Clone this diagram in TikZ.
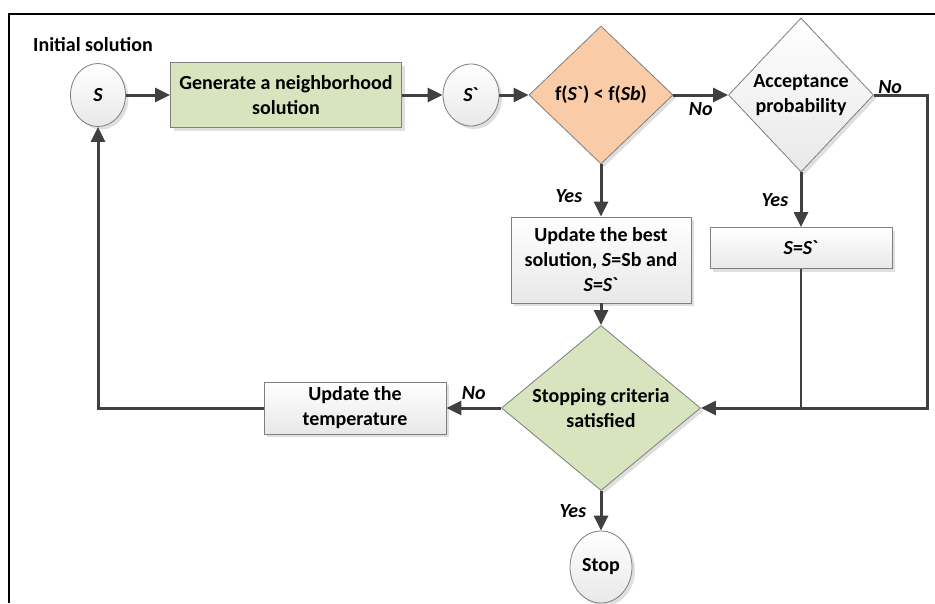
\documentclass[tikz,border=0pt]{standalone}
\usepackage{fontspec}
\setmainfont{Carlito}
\usetikzlibrary{arrows.meta,shapes.geometric,shadows}
\definecolor{olivebox}{HTML}{D7E4BD}
\definecolor{peach}{HTML}{F9CBA7}
\definecolor{lineclr}{HTML}{404040}
\definecolor{edgeclr}{HTML}{7F7F7F}
\newcommand{\Sprime}{\textit{S}\textasciigrave}
\tikzset{
  shapebase/.style={draw=edgeclr, line width=0.8pt, inner sep=0pt, align=center,
    font=\fontsize{20}{25}\selectfont\bfseries,
    drop shadow={shadow xshift=3pt, shadow yshift=-3pt, opacity=0.25, fill=gray}},
  procbox/.style={shapebase, rectangle, top color=white, bottom color=gray!18},
  greenbox/.style={shapebase, rectangle, fill=olivebox},
  statenode/.style={shapebase, ellipse, top color=white, bottom color=gray!18},
  decision/.style={shapebase, diamond},
  dtext/.style={align=center, font=\fontsize{20}{25}\selectfont\bfseries},
  lbl/.style={font=\fontsize{20}{24}\selectfont\bfseries\itshape},
  flow/.style={draw=lineclr, line width=3pt, -{Triangle[length=15pt,width=14pt]}},
  feedline/.style={draw=lineclr, line width=1.5pt},
}
\begin{document}
\begin{tikzpicture}[x=1pt, y=-1pt]
\useasboundingbox (0,0) rectangle (935,603);
\draw[line width=2.5pt] (935,14) -- (9,14) -- (9,603);
\node[dtext] (init) at (93,45) {Initial solution};
\node[statenode, minimum width=55pt, minimum height=63pt] (s) at (98,95) {\textit{S}};
\node[greenbox, minimum width=231pt, minimum height=65pt] (gen) at (286,95) {Generate a neighborhood\\solution};
\node[statenode, minimum width=56pt, minimum height=62pt] (sp) at (471,95) {\Sprime};
\node[decision, fill=peach, minimum width=144pt, minimum height=138pt] (better) at (601,95) {};
\node[dtext] (better-txt) at (better) {f(\Sprime) < f(\textit{Sb})};
\node[decision, top color=white, bottom color=gray!18, minimum width=145pt, minimum height=154pt] (accept) at (801,95) {};
\node[dtext] (accept-txt) at (accept) {Acceptance\\probability};
\node[procbox, minimum width=180pt, minimum height=86pt] (best) at (601,260) {Update the best\\solution, \textit{S}=Sb and\\\textit{S}=\Sprime};
\node[procbox, minimum width=182pt, minimum height=41pt] (accepted) at (801,248) {\textit{S}=\Sprime};
\node[decision, fill=olivebox, minimum width=199pt, minimum height=165pt] (stopcrit) at (601,408) {};
\node[dtext] (stopcrit-txt) at (stopcrit) {Stopping criteria\\satisfied};
\node[procbox, minimum width=182pt, minimum height=52pt] (temp) at (355,408) {Update the\\temperature};
\node[statenode, minimum width=62pt, minimum height=72pt] (stop) at (601,567) {Stop};
% main flow
\draw[flow] (s) -- (gen);
\draw[flow] (gen) -- (sp);
\draw[flow] (sp) -- (better);
\draw[flow] (better) -- node[lbl, below, yshift=-3pt] {No} (accept);
\draw[flow] (accept.east) -- node[lbl, above, pos=0.3, yshift=-3pt] {No} ++(54,0) |- (stopcrit.east);
\draw[flow] (accept) -- node[lbl, left, xshift=-8pt] {Yes} (accepted);
\draw[feedline] (accepted) -- (accepted |- stopcrit.east);
\draw[flow] (better) -- node[lbl, left, pos=0.6, xshift=-14pt] {Yes} (best);
\draw[flow] (best) -- (stopcrit);
\draw[flow] (stopcrit) -- node[lbl, above, yshift=4pt] {No} (temp);
\draw[flow] (temp.west) -| (s.south);
\draw[flow] (stopcrit) -- node[lbl, left, xshift=-10pt] {Yes} (stop);
\end{tikzpicture}
\end{document}
